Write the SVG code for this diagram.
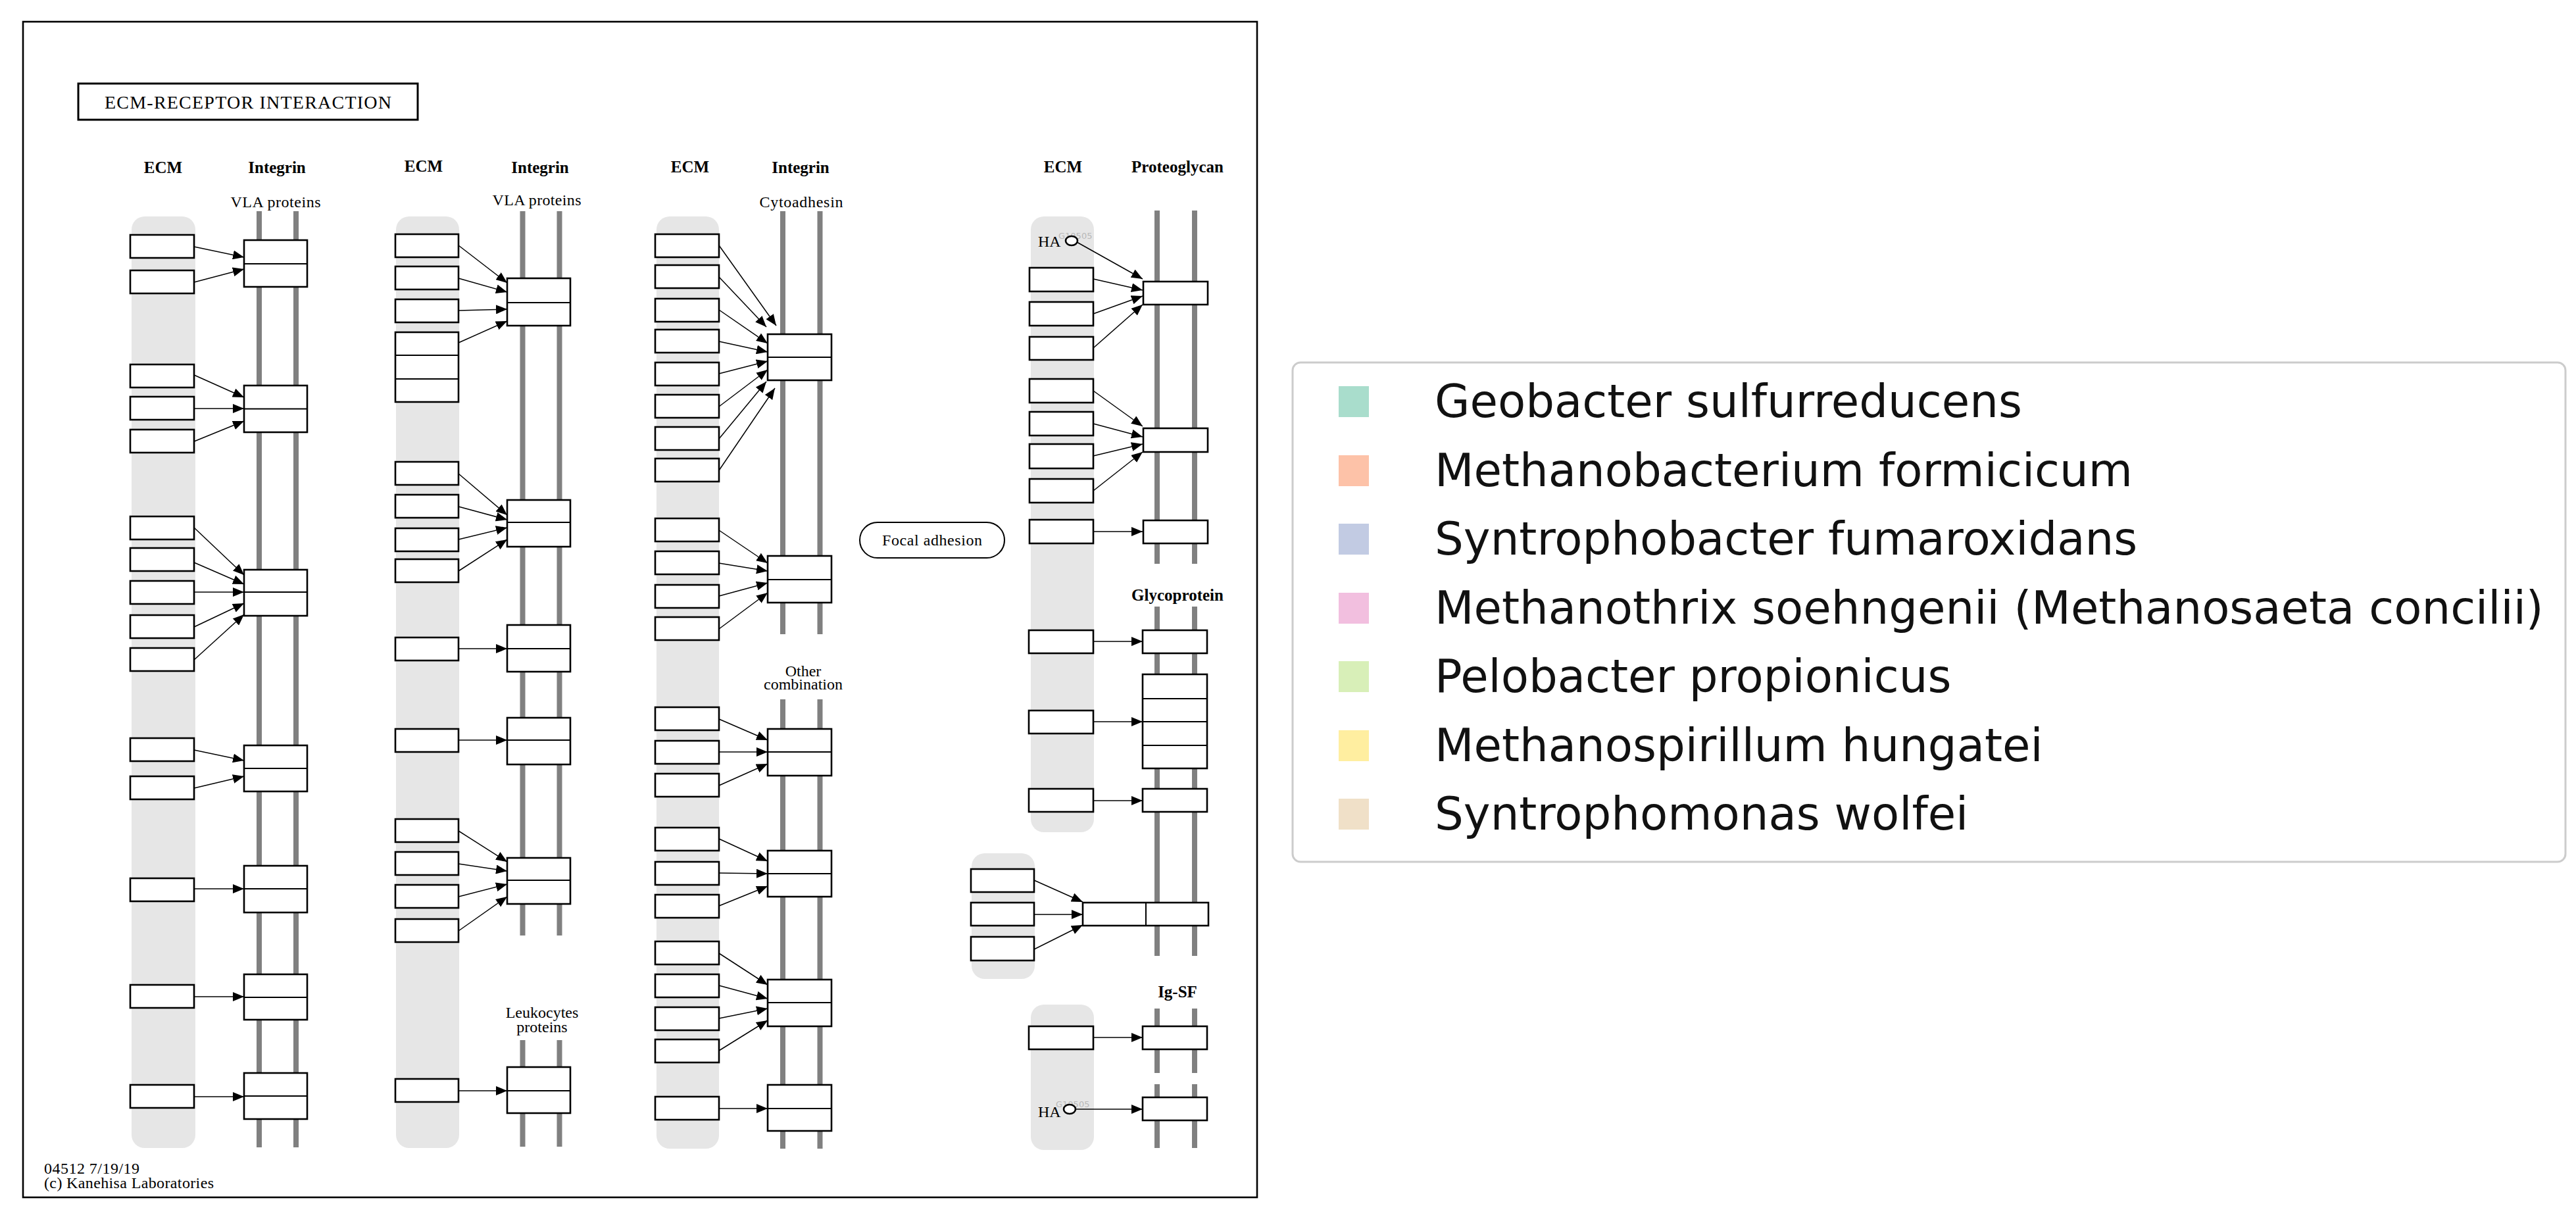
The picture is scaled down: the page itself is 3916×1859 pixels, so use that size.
<svg xmlns="http://www.w3.org/2000/svg" width="3916" height="1859" viewBox="0 0 3916 1859">
<style>
.band{fill:#e6e6e6}
.box{fill:#fff;stroke:#000;stroke-width:2.6}
.div{stroke:#000;stroke-width:2}
.rail{stroke:#808080;stroke-width:8}
.arr{stroke:#000;stroke-width:1.5;fill:none;marker-end:url(#ah)}
.hd{font-family:"Liberation Serif",serif;font-weight:bold;font-size:25px;text-anchor:middle}
.lb{font-family:"Liberation Serif",serif;font-size:24px;text-anchor:middle}
.ft{font-family:"Liberation Serif",serif;font-size:24px}
.lg{font-family:"DejaVu Sans",sans-serif;font-size:69px;fill:#111}
.gid{font-family:"DejaVu Sans",sans-serif;font-size:13px;fill:#b8b8b8}
</style>
<defs>
<marker id="ah" markerUnits="userSpaceOnUse" markerWidth="18" markerHeight="14" refX="17" refY="7" orient="auto">
<path d="M0,0 L17,7 L0,14 z" fill="#000"/>
</marker>
</defs>
<rect width="3916" height="1859" fill="#fff"/>
<rect x="35" y="33" width="1876" height="1787" fill="none" stroke="#000" stroke-width="2.6"/>
<g id="title">
<rect x="119" y="127" width="516" height="55" fill="#fff" stroke="#000" stroke-width="3"/>
<text x="377" y="165" font-family="Liberation Serif,serif" font-size="28" text-anchor="middle" textLength="436">ECM-RECEPTOR INTERACTION</text>
</g>
<g id="bands">
<rect class="band" x="200" y="329" width="97" height="1416" rx="20"/>
<rect class="band" x="602" y="329" width="96" height="1416" rx="20"/>
<rect class="band" x="998" y="329" width="95" height="1417" rx="20"/>
<rect class="band" x="1567" y="329" width="96" height="936" rx="20"/>
<rect class="band" x="1477" y="1297" width="96" height="191" rx="20"/>
<rect class="band" x="1567" y="1527" width="96" height="221" rx="20"/>
</g>
<g id="rails">
<line class="rail" x1="394" y1="321" x2="394" y2="1744"/><line class="rail" x1="450" y1="321" x2="450" y2="1744"/>
<line class="rail" x1="794.5" y1="321" x2="794.5" y2="1422"/><line class="rail" x1="850.5" y1="321" x2="850.5" y2="1422"/>
<line class="rail" x1="794.5" y1="1581" x2="794.5" y2="1743"/><line class="rail" x1="850.5" y1="1581" x2="850.5" y2="1743"/>
<line class="rail" x1="1190" y1="321" x2="1190" y2="964"/><line class="rail" x1="1246.5" y1="321" x2="1246.5" y2="964"/>
<line class="rail" x1="1190" y1="1063" x2="1190" y2="1746"/><line class="rail" x1="1246.5" y1="1063" x2="1246.5" y2="1746"/>
<line class="rail" x1="1759" y1="320" x2="1759" y2="857"/><line class="rail" x1="1816" y1="320" x2="1816" y2="857"/>
<line class="rail" x1="1759" y1="922" x2="1759" y2="1453"/><line class="rail" x1="1816" y1="922" x2="1816" y2="1453"/>
<line class="rail" x1="1759" y1="1533" x2="1759" y2="1631"/><line class="rail" x1="1816" y1="1533" x2="1816" y2="1631"/>
<line class="rail" x1="1759" y1="1648" x2="1759" y2="1745"/><line class="rail" x1="1816" y1="1648" x2="1816" y2="1745"/>
</g>
<g id="labels">
<text class="hd" x="248" y="263">ECM</text><text class="hd" x="421" y="263">Integrin</text><text class="lb" x="419" y="315" textLength="137">VLA proteins</text>
<text class="hd" x="644" y="261">ECM</text><text class="hd" x="821" y="263">Integrin</text><text class="lb" x="816" y="312" textLength="135">VLA proteins</text>
<text class="hd" x="1049" y="262">ECM</text><text class="hd" x="1217" y="263">Integrin</text><text class="lb" x="1218" y="315" textLength="127">Cytoadhesin</text>
<text class="hd" x="1616" y="262">ECM</text><text class="hd" x="1790" y="262">Proteoglycan</text>
<text class="hd" x="1790" y="913">Glycoprotein</text>
<text class="hd" x="1790" y="1516">Ig-SF</text>
<text class="lb" x="824" y="1547">Leukocytes</text><text class="lb" x="824" y="1569">proteins</text>
<text class="lb" x="1221" y="1028">Other</text><text class="lb" x="1221" y="1048">combination</text>
<text class="ft" x="67" y="1784" textLength="145">04512 7/19/19</text>
<text class="ft" x="67" y="1806" textLength="258">(c) Kanehisa Laboratories</text>
</g>
<g id="focal-adhesion">
<rect x="1307" y="794" width="220" height="54" rx="27" fill="#fff" stroke="#000" stroke-width="2"/>
<text class="lb" x="1417" y="829" font-size="26" textLength="152">Focal adhesion</text>
</g>
<g id="ecm-col1">
<rect class="box" x="198" y="357" width="97" height="35"/><rect class="box" x="198" y="411" width="97" height="35"/>
<rect class="box" x="198" y="554" width="97" height="35"/><rect class="box" x="198" y="603" width="97" height="35"/><rect class="box" x="198" y="653" width="97" height="35"/>
<rect class="box" x="198" y="785" width="97" height="35"/><rect class="box" x="198" y="833" width="97" height="35"/><rect class="box" x="198" y="883" width="97" height="35"/><rect class="box" x="198" y="935" width="97" height="35"/><rect class="box" x="198" y="985" width="97" height="35"/>
<rect class="box" x="198" y="1122" width="97" height="35"/><rect class="box" x="198" y="1180" width="97" height="35"/>
<rect class="box" x="198" y="1335" width="97" height="35"/><rect class="box" x="198" y="1497" width="97" height="35"/><rect class="box" x="198" y="1649" width="97" height="35"/>
</g>
<g id="integrin-col1">
<g><rect class="box" x="371" y="365" width="96" height="71"/><line class="div" x1="371" y1="401" x2="467" y2="401"/></g>
<g><rect class="box" x="371" y="586" width="96" height="71"/><line class="div" x1="371" y1="621.5" x2="467" y2="621.5"/></g>
<g><rect class="box" x="371" y="866" width="96" height="70"/><line class="div" x1="371" y1="900" x2="467" y2="900"/></g>
<g><rect class="box" x="371" y="1133" width="96" height="70"/><line class="div" x1="371" y1="1168" x2="467" y2="1168"/></g>
<g><rect class="box" x="371" y="1316" width="96" height="71"/><line class="div" x1="371" y1="1351" x2="467" y2="1351"/></g>
<g><rect class="box" x="371" y="1481" width="96" height="69"/><line class="div" x1="371" y1="1516" x2="467" y2="1516"/></g>
<g><rect class="box" x="371" y="1631" width="96" height="70"/><line class="div" x1="371" y1="1666" x2="467" y2="1666"/></g>
</g>
<g id="ecm-col2">
<rect class="box" x="601" y="356" width="96" height="35"/><rect class="box" x="601" y="405" width="96" height="35"/><rect class="box" x="601" y="455" width="96" height="35"/>
<g><rect class="box" x="601" y="505" width="96" height="106"/><line class="div" x1="601" y1="540" x2="697" y2="540"/><line class="div" x1="601" y1="576" x2="697" y2="576"/></g>
<rect class="box" x="601" y="702" width="96" height="35"/><rect class="box" x="601" y="752" width="96" height="35"/><rect class="box" x="601" y="803" width="96" height="35"/><rect class="box" x="601" y="850" width="96" height="35"/>
<rect class="box" x="601" y="969" width="96" height="35"/><rect class="box" x="601" y="1108" width="96" height="35"/>
<rect class="box" x="601" y="1245" width="96" height="35"/><rect class="box" x="601" y="1295" width="96" height="35"/><rect class="box" x="601" y="1345" width="96" height="35"/><rect class="box" x="601" y="1397" width="96" height="35"/>
<rect class="box" x="601" y="1640" width="96" height="35"/>
</g>
<g id="integrin-col2">
<g><rect class="box" x="771" y="423" width="96" height="72"/><line class="div" x1="771" y1="460" x2="867" y2="460"/></g>
<g><rect class="box" x="771" y="760" width="96" height="71"/><line class="div" x1="771" y1="794" x2="867" y2="794"/></g>
<g><rect class="box" x="771" y="950" width="96" height="71"/><line class="div" x1="771" y1="986" x2="867" y2="986"/></g>
<g><rect class="box" x="771" y="1091" width="96" height="71"/><line class="div" x1="771" y1="1125" x2="867" y2="1125"/></g>
<g><rect class="box" x="771" y="1304" width="96" height="70"/><line class="div" x1="771" y1="1338" x2="867" y2="1338"/></g>
<g><rect class="box" x="771" y="1622" width="96" height="70"/><line class="div" x1="771" y1="1658" x2="867" y2="1658"/></g>
</g>
<g id="ecm-col3">
<rect class="box" x="996" y="356" width="97" height="35"/><rect class="box" x="996" y="403" width="97" height="35"/><rect class="box" x="996" y="454" width="97" height="35"/><rect class="box" x="996" y="501" width="97" height="35"/>
<rect class="box" x="996" y="551" width="97" height="35"/><rect class="box" x="996" y="600" width="97" height="35"/><rect class="box" x="996" y="649" width="97" height="35"/><rect class="box" x="996" y="697" width="97" height="35"/>
<rect class="box" x="996" y="788" width="97" height="35"/><rect class="box" x="996" y="838" width="97" height="35"/><rect class="box" x="996" y="889" width="97" height="35"/><rect class="box" x="996" y="938" width="97" height="35"/>
<rect class="box" x="996" y="1075" width="97" height="35"/><rect class="box" x="996" y="1126" width="97" height="35"/><rect class="box" x="996" y="1176" width="97" height="35"/>
<rect class="box" x="996" y="1258" width="97" height="35"/><rect class="box" x="996" y="1310" width="97" height="35"/><rect class="box" x="996" y="1360" width="97" height="35"/>
<rect class="box" x="996" y="1431" width="97" height="35"/><rect class="box" x="996" y="1481" width="97" height="35"/><rect class="box" x="996" y="1531" width="97" height="35"/><rect class="box" x="996" y="1580" width="97" height="35"/>
<rect class="box" x="996" y="1667" width="97" height="35"/>
</g>
<g id="integrin-col3">
<g><rect class="box" x="1167" y="508" width="97" height="70"/><line class="div" x1="1167" y1="543" x2="1264" y2="543"/></g>
<g><rect class="box" x="1167" y="845" width="97" height="71"/><line class="div" x1="1167" y1="881" x2="1264" y2="881"/></g>
<g><rect class="box" x="1167" y="1108" width="97" height="71"/><line class="div" x1="1167" y1="1143" x2="1264" y2="1143"/></g>
<g><rect class="box" x="1167" y="1293" width="97" height="70"/><line class="div" x1="1167" y1="1328" x2="1264" y2="1328"/></g>
<g><rect class="box" x="1167" y="1489" width="97" height="71"/><line class="div" x1="1167" y1="1524" x2="1264" y2="1524"/></g>
<g><rect class="box" x="1167" y="1649" width="97" height="70"/><line class="div" x1="1167" y1="1685" x2="1264" y2="1685"/></g>
</g>
<g id="ecm-col4">
<g id="ha1"><text class="gid" x="1609" y="363">G10505</text><text x="1578" y="375" font-family="Liberation Serif,serif" font-size="24">HA</text><ellipse cx="1629" cy="366" rx="9" ry="7" fill="#fff" stroke="#000" stroke-width="2.6"/></g>
<rect class="box" x="1565" y="407" width="97" height="36"/><rect class="box" x="1565" y="459" width="97" height="36"/><rect class="box" x="1565" y="512" width="97" height="35"/>
<rect class="box" x="1565" y="576" width="97" height="36"/><rect class="box" x="1565" y="626" width="97" height="36"/><rect class="box" x="1565" y="675" width="97" height="37"/><rect class="box" x="1565" y="728" width="97" height="36"/>
<rect class="box" x="1565" y="790" width="97" height="36"/>
<rect class="box" x="1564" y="958" width="98" height="35"/><rect class="box" x="1564" y="1080" width="98" height="35"/><rect class="box" x="1564" y="1199" width="98" height="35"/>
<rect class="box" x="1476" y="1321" width="96" height="35"/><rect class="box" x="1476" y="1372" width="96" height="35"/><rect class="box" x="1476" y="1424" width="96" height="36"/>
<rect class="box" x="1564" y="1560" width="98" height="35"/>
<g id="ha2"><text class="gid" x="1605" y="1683">G10505</text><text x="1578" y="1698" font-family="Liberation Serif,serif" font-size="24">HA</text><ellipse cx="1626" cy="1686" rx="9" ry="7" fill="#fff" stroke="#000" stroke-width="2.6"/></g>
</g>
<g id="receptors-col4">
<rect class="box" x="1738" y="428" width="98" height="35"/><rect class="box" x="1738" y="651" width="98" height="36"/><rect class="box" x="1738" y="791" width="98" height="35"/>
<rect class="box" x="1737" y="958" width="98" height="35"/>
<g><rect class="box" x="1737" y="1025" width="98" height="143"/><line class="div" x1="1737" y1="1062" x2="1835" y2="1062"/><line class="div" x1="1737" y1="1097" x2="1835" y2="1097"/><line class="div" x1="1737" y1="1133" x2="1835" y2="1133"/></g>
<rect class="box" x="1737" y="1199" width="98" height="35"/>
<g><rect class="box" x="1646" y="1372" width="191" height="35"/><line class="div" x1="1742" y1="1372" x2="1742" y2="1407"/></g>
<rect class="box" x="1737" y="1560" width="98" height="35"/><rect class="box" x="1737" y="1668" width="98" height="35"/>
</g>
<g id="connectors">
<line class="arr" x1="295" y1="375" x2="371" y2="391"/><line class="arr" x1="295" y1="429" x2="371" y2="409"/>
<line class="arr" x1="295" y1="570" x2="371" y2="604"/><line class="arr" x1="295" y1="621" x2="371" y2="621"/><line class="arr" x1="295" y1="671" x2="371" y2="640"/>
<line class="arr" x1="295" y1="802" x2="371" y2="874"/><line class="arr" x1="295" y1="855" x2="371" y2="888"/><line class="arr" x1="295" y1="900" x2="371" y2="900"/><line class="arr" x1="295" y1="953" x2="371" y2="917"/><line class="arr" x1="295" y1="1003" x2="371" y2="934"/>
<line class="arr" x1="295" y1="1140" x2="371" y2="1156"/><line class="arr" x1="295" y1="1198" x2="371" y2="1180"/>
<line class="arr" x1="295" y1="1351" x2="371" y2="1351"/><line class="arr" x1="295" y1="1515" x2="371" y2="1515"/><line class="arr" x1="295" y1="1667" x2="371" y2="1667"/>
<line class="arr" x1="697" y1="373" x2="771" y2="430"/><line class="arr" x1="697" y1="423" x2="771" y2="444"/><line class="arr" x1="697" y1="472" x2="771" y2="470"/><line class="arr" x1="697" y1="521" x2="771" y2="488"/>
<line class="arr" x1="697" y1="720" x2="771" y2="783"/><line class="arr" x1="697" y1="770" x2="771" y2="790"/><line class="arr" x1="697" y1="820" x2="771" y2="802"/><line class="arr" x1="697" y1="868" x2="771" y2="820"/>
<line class="arr" x1="697" y1="986" x2="771" y2="986"/><line class="arr" x1="697" y1="1125" x2="771" y2="1125"/>
<line class="arr" x1="697" y1="1263" x2="771" y2="1310"/><line class="arr" x1="697" y1="1313" x2="771" y2="1324"/><line class="arr" x1="697" y1="1363" x2="771" y2="1344"/><line class="arr" x1="697" y1="1415" x2="771" y2="1363"/>
<line class="arr" x1="697" y1="1658" x2="771" y2="1658"/>
<line class="arr" x1="1093" y1="373" x2="1180" y2="495"/><line class="arr" x1="1093" y1="421" x2="1165" y2="497"/><line class="arr" x1="1093" y1="471" x2="1167" y2="522"/><line class="arr" x1="1093" y1="519" x2="1167" y2="535"/>
<line class="arr" x1="1093" y1="568" x2="1167" y2="549"/><line class="arr" x1="1093" y1="618" x2="1167" y2="562"/><line class="arr" x1="1093" y1="667" x2="1165" y2="580"/><line class="arr" x1="1093" y1="715" x2="1178" y2="590"/>
<line class="arr" x1="1093" y1="806" x2="1167" y2="856"/><line class="arr" x1="1093" y1="856" x2="1167" y2="868"/><line class="arr" x1="1093" y1="906" x2="1167" y2="886"/><line class="arr" x1="1093" y1="956" x2="1167" y2="901"/>
<line class="arr" x1="1093" y1="1093" x2="1167" y2="1125"/><line class="arr" x1="1093" y1="1143" x2="1167" y2="1143"/><line class="arr" x1="1093" y1="1194" x2="1167" y2="1161"/>
<line class="arr" x1="1093" y1="1275" x2="1167" y2="1309"/><line class="arr" x1="1093" y1="1327" x2="1167" y2="1328"/><line class="arr" x1="1093" y1="1377" x2="1167" y2="1347"/>
<line class="arr" x1="1093" y1="1449" x2="1167" y2="1497"/><line class="arr" x1="1093" y1="1498" x2="1167" y2="1518"/><line class="arr" x1="1093" y1="1548" x2="1167" y2="1533"/><line class="arr" x1="1093" y1="1597" x2="1167" y2="1551"/>
<line class="arr" x1="1093" y1="1685" x2="1167" y2="1685"/>
<line class="arr" x1="1637" y1="368" x2="1737" y2="424"/><line class="arr" x1="1662" y1="424" x2="1737" y2="441"/><line class="arr" x1="1662" y1="477" x2="1737" y2="450"/><line class="arr" x1="1662" y1="529" x2="1737" y2="463"/>
<line class="arr" x1="1662" y1="594" x2="1737" y2="648"/><line class="arr" x1="1662" y1="644" x2="1737" y2="664"/><line class="arr" x1="1662" y1="693" x2="1737" y2="675"/><line class="arr" x1="1662" y1="746" x2="1737" y2="687"/>
<line class="arr" x1="1662" y1="808" x2="1737" y2="808"/>
<line class="arr" x1="1662" y1="975" x2="1737" y2="975"/><line class="arr" x1="1662" y1="1097" x2="1737" y2="1097"/><line class="arr" x1="1662" y1="1217" x2="1737" y2="1217"/>
<line class="arr" x1="1572" y1="1338" x2="1646" y2="1371"/><line class="arr" x1="1572" y1="1390" x2="1646" y2="1390"/><line class="arr" x1="1572" y1="1443" x2="1646" y2="1406"/>
<line class="arr" x1="1662" y1="1577" x2="1737" y2="1577"/><line class="arr" x1="1635" y1="1686" x2="1737" y2="1686"/>
</g>
<g id="legend">
<rect x="1965" y="551" width="1935" height="759" rx="12" fill="#fff" stroke="#cccccc" stroke-width="3"/>
<rect x="2035" y="587" width="46" height="47" fill="#a9ddcc"/><text class="lg" x="2181" y="634">Geobacter sulfurreducens</text>
<rect x="2035" y="692" width="46" height="47" fill="#fdc2a8"/><text class="lg" x="2181" y="739">Methanobacterium formicicum</text>
<rect x="2035" y="796" width="46" height="47" fill="#c2cbe3"/><text class="lg" x="2181" y="843">Syntrophobacter fumaroxidans</text>
<rect x="2035" y="901" width="46" height="47" fill="#f2bfdf"/><text class="lg" x="2181" y="948">Methanothrix soehngenii (Methanosaeta concilii)</text>
<rect x="2035" y="1005" width="46" height="47" fill="#d8efb8"/><text class="lg" x="2181" y="1052">Pelobacter propionicus</text>
<rect x="2035" y="1110" width="46" height="47" fill="#ffeea0"/><text class="lg" x="2181" y="1157">Methanospirillum hungatei</text>
<rect x="2035" y="1214" width="46" height="47" fill="#f0e0c8"/><text class="lg" x="2181" y="1261">Syntrophomonas wolfei</text>
</g>
</svg>
